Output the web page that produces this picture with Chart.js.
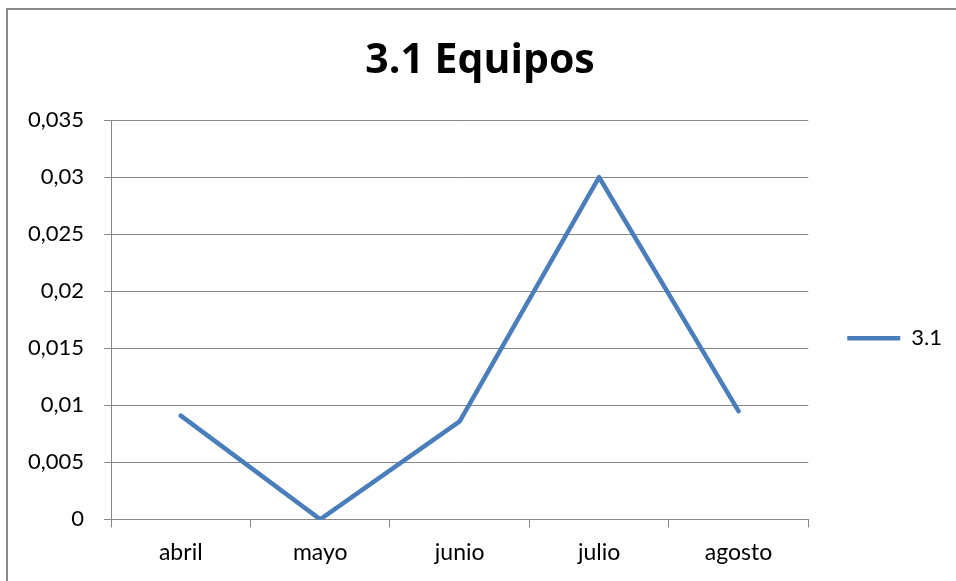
<!DOCTYPE html>
<html>
<head>
<meta charset="utf-8">
<script src="https://cdn.jsdelivr.net/npm/chart.js@4/dist/chart.umd.min.js"></script>
<style>
  body { margin: 0; background: #fff; }
  #frame { position: absolute; left: 6px; top: 8px; width: 1000px; height: 700px;
           border-left: 2px solid #8a8a8a; border-top: 2px solid #8a8a8a; }
  #wrap { position: absolute; left: 0; top: 0; width: 956px; height: 581px; }
</style>
</head>
<body>
<div id="frame"></div>
<div id="wrap"><canvas id="myChart" width="956" height="581"></canvas></div>
<script>
// datos del grafico
const meses = ['abril', 'mayo', 'junio', 'julio', 'agosto'];
const valores31 = [0.0091, 0, 0.0086, 0.030, 0.0095];
const etiquetasY = ['0', '0,005', '0,01', '0,015', '0,02', '0,025', '0,03', '0,035'];

const azul = '#4a7ebb';
const gris = '#868686';
const fuente = 'Lato, "Noto Sans", sans-serif';

const ctx = document.getElementById('myChart').getContext('2d');
const myChart = new Chart(ctx, {
  type: 'line',
  data: {
    labels: meses,
    datasets: [{
      label: '3.1',
      data: valores31,
      borderColor: azul,
      backgroundColor: azul,
      borderWidth: 4.5,
      borderCapStyle: 'round',
      borderJoinStyle: 'round',
      pointRadius: 0,
      pointStyle: 'line',
      tension: 0
    }]
  },
  options: {
    responsive: false,
    animation: false,
    layout: { padding: { top: 37, right: 4, bottom: 4, left: 8 } },
    plugins: {
      title: {
        display: true,
        text: '3.1 Equipos',
        color: '#000',
        font: { family: '"Open Sans", sans-serif', size: 41, weight: 'bold' },
        padding: { top: 0, bottom: 34 }
      },
      legend: {
        position: 'right',
        maxWidth: 146,
        title: { display: true, text: '', padding: { top: 48, bottom: 0 } },
        labels: {
          usePointStyle: true,
          pointStyle: 'line',
          pointStyleWidth: 53,
          color: '#000',
          padding: 39,
          font: { family: fuente, size: 22 }
        }
      },
      tooltip: { enabled: false }
    },
    scales: {
      x: {
        offset: true,
        grid: { display: true, drawOnChartArea: false, offset: true, color: gris, tickLength: 8, tickColor: gris },
        border: { color: gris, width: 1 },
        ticks: { color: '#000', font: { family: fuente, size: 23 }, padding: 11 }
      },
      y: {
        min: 0,
        max: 0.035,
        ticks: {
          stepSize: 0.005,
          color: '#000',
          padding: 20,
          font: { family: fuente, size: 22 },
          callback: function(value, index){ return etiquetasY[index]; }
        },
        grid: { color: gris, tickLength: 7, tickColor: gris },
        border: { color: gris, width: 1 }
      }
    }
  }
});
</script>
</body>
</html>
